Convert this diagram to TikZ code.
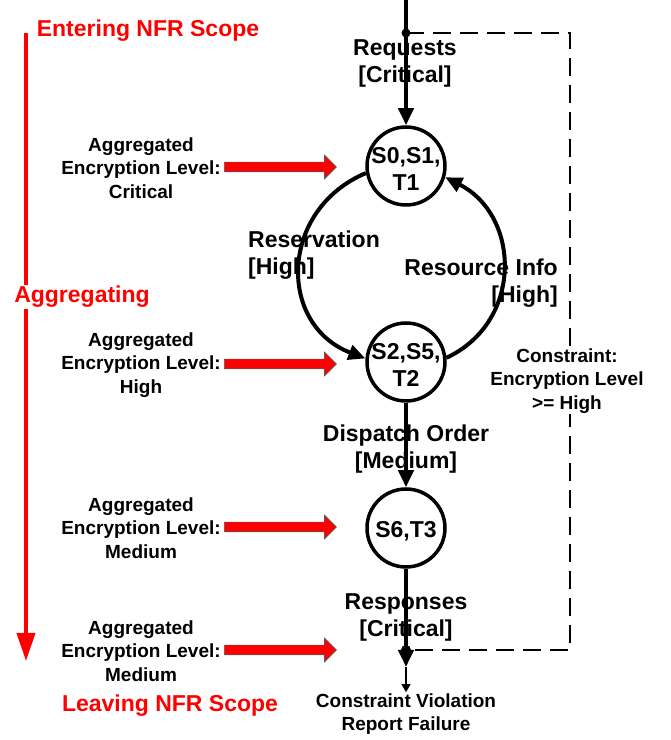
\documentclass[tikz,border=0pt]{standalone}
\usepackage{fontspec}
\setmainfont{Liberation Sans}
\usepackage{xcolor}
\usetikzlibrary{arrows.meta, shapes.arrows, positioning}

\begin{document}
\begin{tikzpicture}[x=1pt, y=1pt,
    bigtxt/.style={font=\fontsize{23}{27}\selectfont\bfseries, align=center, inner sep=1pt, yshift=-3pt},
    smalltxt/.style={font=\fontsize{19}{23.5}\selectfont\bfseries, align=center, inner sep=1pt, yshift=-1pt},
    redtxt/.style={bigtxt, text=red},
    state/.style={circle, draw, line width=3.5pt, minimum size=78pt, inner sep=0pt},
    flow/.style={line width=4pt, -{Triangle[length=17pt, width=15pt]}},
    constr/.style={line width=2.3pt, dash pattern=on 18pt off 9pt},
    blockarr/.style={single arrow, draw=black!65, fill=red, line width=0.7pt,
      minimum height=112pt, minimum width=23pt, inner xsep=0pt, inner ysep=4.5pt,
      single arrow head extend=7pt, anchor=west}]
  \useasboundingbox (0, 0) rectangle (671, 740);
  % scope arrow on the left
  \coordinate (scopetop) at (26, 707);
  \coordinate (scopebot) at (26, 79);
  \draw[red, line width=4pt, -{Triangle[length=28pt, width=18pt]}] (scopetop) -- (scopebot);
  \node[redtxt] (enter) at (148, 712) {Entering NFR Scope};
  \node[redtxt, fill=white] (aggr) at (82, 446) {Aggregating};
  \node[redtxt] (leave) at (170, 37) {Leaving NFR Scope};
  % states
  \node[state, label={[bigtxt]center:{S0,S1,\\T1}}] (n1) at (406, 574) {};
  \node[state, label={[bigtxt]center:{S2,S5,\\T2}}] (n2) at (406, 378) {};
  \node[state, label={[bigtxt]center:{S6,T3}}] (n3) at (406, 212) {};
  % message labels
  \node[bigtxt] (req) at (405, 680) {Requests\\{[}Critical{]}};
  \node[bigtxt, anchor=west, align=left] (resv) at (247, 488) {Reservation\\{[}High{]}};
  \node[bigtxt, anchor=east, align=right] (rinfo) at (559, 460) {Resource Info\\{[}High{]}};
  \node[bigtxt] (disp) at (406, 294) {Dispatch Order\\{[}Medium{]}};
  \node[bigtxt] (resp) at (406, 126) {Responses\\{[}Critical{]}};
  % flows
  \coordinate (src) at (406, 740);
  \coordinate (tapin) at (406, 707);
  \coordinate (tapout) at (406, 90);
  \coordinate (tip) at (406, 73);
  \draw[flow] (src) -- (n1);
  \draw[flow] (n1.190) to[out=203, in=159, looseness=1.3] (n2.175);
  \draw[flow] (n2.6) to[out=25, in=333, looseness=1.2] (n1.-16);
  \draw[flow] (n2) -- (n3);
  \draw[flow] (n3) -- (tip);
  % constraint check
  \coordinate (ne) at (570, 707);
  \coordinate (se) at (570, 90);
  \draw[constr] (tapin) -- (ne) -- (se) -- (tapout);
  \fill (tapin) circle (4.5);
  \fill (tapout) circle (5);
  \node[smalltxt, fill=white] (cons) at (567, 360) {Constraint:\\Encryption Level\\>= High};
  \node[smalltxt] (viol) at (406, 27) {Constraint Violation\\Report Failure};
  \draw[line width=1.3pt, -{Triangle[length=8pt, width=9pt]}] (tip) -- (viol);
  % aggregated levels
  \node[smalltxt] (agg1) at (141, 573) {Aggregated\\Encryption Level:\\Critical};
  \node[smalltxt] (agg2) at (141, 376) {Aggregated\\Encryption Level:\\High};
  \node[smalltxt] (agg3) at (141, 213) {Aggregated\\Encryption Level:\\Medium};
  \node[smalltxt] (agg4) at (141, 90) {Aggregated\\Encryption Level:\\Medium};
  \node[blockarr] (ar1) at (224, 573) {};
  \node[blockarr] (ar2) at (224, 376) {};
  \node[blockarr] (ar3) at (224, 213) {};
  \node[blockarr] (ar4) at (224, 90) {};
\end{tikzpicture}
\end{document}
